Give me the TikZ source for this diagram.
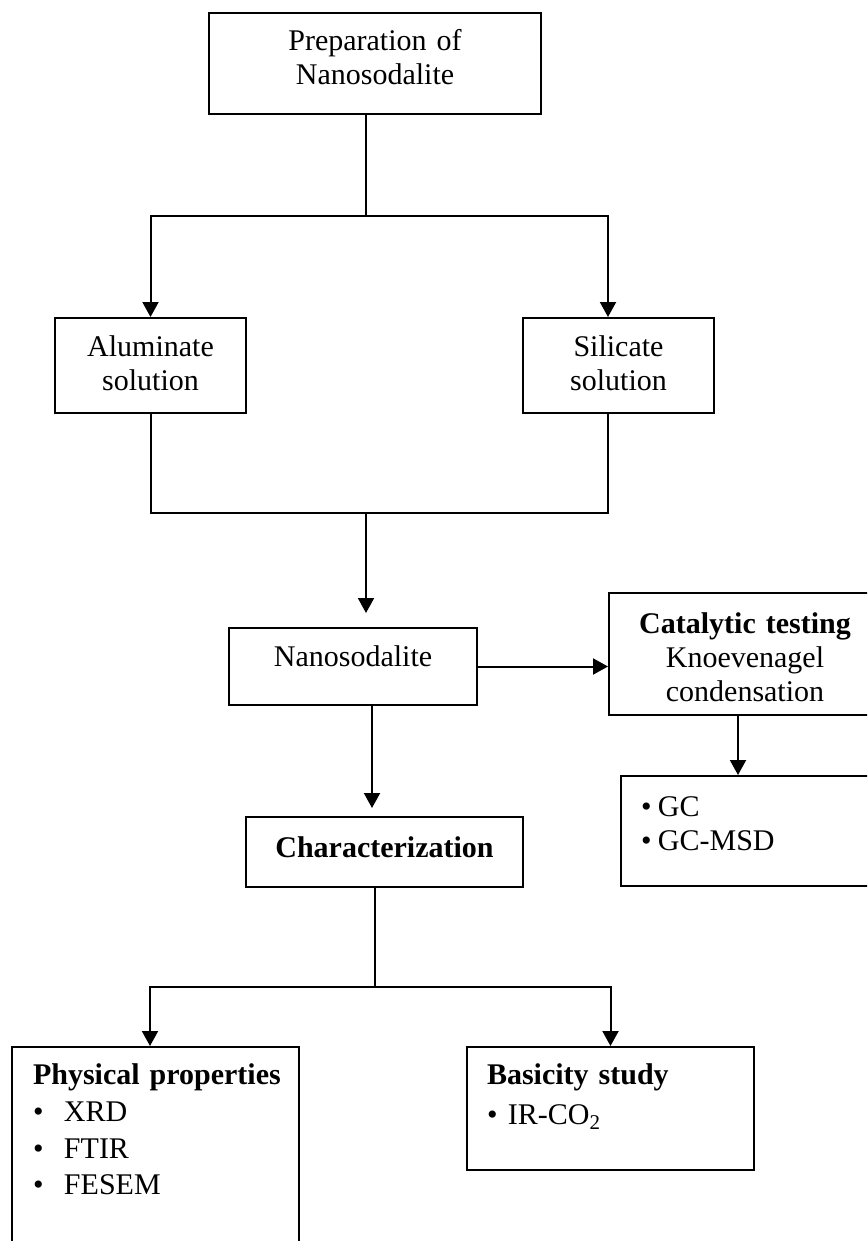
\documentclass[tikz,border=0pt]{standalone}
\usepackage{fontspec}
\setmainfont{Liberation Serif}
\usetikzlibrary{arrows.meta}

\newcommand{\bul}[1]{\makebox[#1][l]{•}}

\tikzset{
    box/.style={
        rectangle,
        draw=black,
        line width=2pt,
        anchor=north west,
        inner sep=0pt,
        align=center,
        font=\fontsize{30}{34}\selectfont
    },
    listbox/.style={
        box,
        align=left,
        inner xsep=20pt
    },
    flowLine/.style={
        draw=black,
        line width=2pt
    },
    flowArrow/.style={
        flowLine,
        -{Triangle[width=16pt, length=15pt]}
    }
}

\begin{document}
\begin{tikzpicture}[x=1pt, y=-1pt]
    \useasboundingbox (0,0) rectangle (867,1241);
    \clip (0,0) rectangle (867,1241);
    \fill[white] (0,0) rectangle (867,1241);

    % Boxes
    \node[box, text width=332pt, text height=38pt, text depth=63pt] (prep) at (208,12) {Preparation of\\Nanosodalite};
    \node[box, text width=191pt, text height=38pt, text depth=57pt] (alum) at (54,317) {Aluminate\\solution};
    \node[box, text width=191pt, text height=38pt, text depth=57pt] (sil) at (522,317) {Silicate\\solution};
    \node[box, text width=248pt, text height=38pt, text depth=39pt] (nano) at (228,627) {Nanosodalite};
    \node[box, text width=272pt, text height=40pt, text depth=82pt] (cat) at (608,592) {\textbf{Catalytic testing}\\Knoevenagel\\condensation};
    \node[listbox, text width=220pt, text height=40pt, text depth=70pt] (gc) at (620,775) {\bul{17pt}GC\\\bul{17pt}GC-MSD};
    \node[box, text width=277pt, text height=40pt, text depth=30pt] (charz) at (245,816) {\textbf{Characterization}};
    \node[listbox, inner xsep=21pt, text width=245pt, text height=37pt, text depth=177pt] (phys) at (11,1046) {\mbox{\textbf{Physical properties}}\\[3pt]\bul{31pt}XRD\\[3pt]\bul{31pt}FTIR\\[2pt]\bul{31pt}FESEM};
    \node[listbox, text width=247pt, text height=37pt, text depth=86pt] (basic) at (466,1046) {\mbox{\textbf{Basicity study}}\\[6pt]\bul{21pt}IR-CO\textsubscript{2}};

    % Junction points
    \coordinate (topSplit) at (366,216);
    \coordinate (silIn) at (608,317);
    \coordinate (midJoin) at (366,513);
    \coordinate (silOut) at (608,412);
    \coordinate (nanoIn) at (366,613);
    \coordinate (charIn) at (372,808);
    \coordinate (gcIn) at (738,775);
    \coordinate (botSplit) at (375,987);
    \coordinate (physIn) at (150,1046);

    % Connectors
    \draw[flowLine] (prep.south -| topSplit) -- (topSplit);
    \draw[flowArrow] (topSplit) -| (alum.north);
    \draw[flowArrow] (topSplit) -| (silIn);
    \draw[flowLine] (alum.south) |- (midJoin) -| (silOut);
    \draw[flowArrow] (midJoin) -- (nanoIn);
    \draw[flowArrow] (nano.east) -- (nano.east -| cat.west);
    \draw[flowArrow] (nano.south -| charIn) -- (charIn);
    \draw[flowArrow] (cat.south -| gcIn) -- (gcIn);
    \draw[flowLine] (charz.south -| botSplit) -- (botSplit);
    \draw[flowArrow] (botSplit) -| (physIn);
    \draw[flowArrow] (botSplit) -| (basic.north);
\end{tikzpicture}
\end{document}
